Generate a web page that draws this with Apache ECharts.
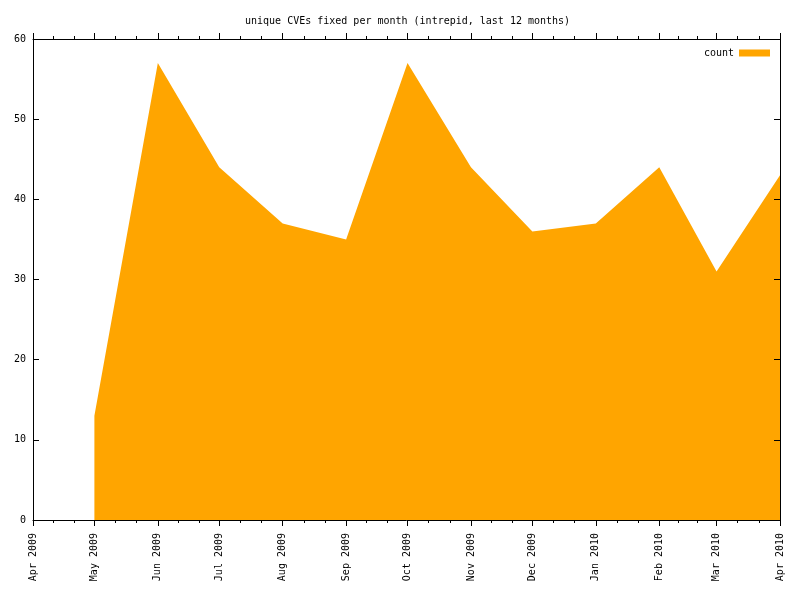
<!DOCTYPE html>
<html>
<head>
<meta charset="utf-8">
<script src="https://cdn.jsdelivr.net/npm/echarts@6/dist/echarts.min.js"></script>
<style>html,body{margin:0;padding:0;background:#fff}#c{width:800px;height:600px}</style>
</head>
<body>
<div id="c"></div>
<script>
const titleText = 'unique CVEs fixed per month (intrepid, last 12 months)';
const seriesName = 'count';
const dates = ['2009-05-01','2009-06-01','2009-07-01','2009-08-01','2009-09-01','2009-10-01','2009-11-01','2009-12-01','2010-01-01','2010-02-01','2010-03-01','2010-04-01'];
const counts = [13, 57, 44, 37, 35, 57, 44, 36, 37, 44, 31, 43];
const tickDates = ['2009-04-01','2009-05-01','2009-06-01','2009-07-01','2009-08-01','2009-09-01','2009-10-01','2009-11-01','2009-12-01','2010-01-01','2010-02-01','2010-03-01','2010-04-01'];
const tickLabels = ['Apr 2009','May 2009','Jun 2009','Jul 2009','Aug 2009','Sep 2009','Oct 2009','Nov 2009','Dec 2009','Jan 2010','Feb 2010','Mar 2010','Apr 2010'];
const yTicks = [0, 10, 20, 30, 40, 50, 60];

const FONT = 'DejaVu Sans Mono';
const parse = s => +echarts.time.parse(s);
const tickVals = tickDates.map(parse);
const xMin = tickVals[0], xMax = tickVals[tickVals.length - 1];
const DAY = 86400000;

function xLabel(v) {
  const val = typeof v === 'object' ? v.value : v;
  for (let i = 0; i < tickVals.length; i++) {
    if (Math.abs(tickVals[i] - val) < DAY / 2) return tickLabels[i];
  }
  return '';
}

const chart = echarts.init(document.getElementById('c'), null, {renderer: 'canvas'});
const baseX = {
  type: 'time', min: xMin, max: xMax,
  splitNumber: 12, minInterval: 28 * DAY, maxInterval: 31 * DAY,
  z: 10,
  axisLine: {show: true, onZero: false, lineStyle: {color: '#000', width: 1}},
  axisTick: {show: true, inside: false, length: 6, lineStyle: {color: '#000'}},
  minorTick: {show: true, splitNumber: 3, length: 3, lineStyle: {color: '#000'}},
  splitLine: {show: false},
  minorSplitLine: {show: false}
};
chart.setOption({
  animation: false,
  backgroundColor: '#fff',
  title: {
    text: titleText, left: 245, top: 16, padding: 0,
    textStyle: {fontFamily: FONT, fontSize: 10, fontWeight: 'normal', color: '#000'}
  },
  legend: {
    data: [seriesName], right: 30, top: 48, padding: 0, align: 'right',
    icon: 'rect', itemWidth: 31, itemHeight: 7,
    textStyle: {fontFamily: FONT, fontSize: 10, color: '#000'}
  },
  grid: {left: 33, right: 20, top: 39, bottom: 80, containLabel: false},
  xAxis: [
    Object.assign({}, baseX, {
      position: 'bottom',
      axisLabel: {
        show: true, rotate: 90, margin: 13, interval: 0, hideOverlap: false,
        showMinLabel: true, showMaxLabel: true,
        fontFamily: FONT, fontSize: 10, color: '#000', formatter: xLabel
      }
    }),
    Object.assign({}, baseX, {position: 'top', axisLabel: {show: false}})
  ],
  yAxis: [
    {
      type: 'value', min: yTicks[0], max: yTicks[yTicks.length - 1], interval: 10, z: 10,
      position: 'left',
      axisLine: {show: true, lineStyle: {color: '#000'}},
      axisTick: {show: true, inside: true, length: 6, lineStyle: {color: '#000'}},
      splitLine: {show: false},
      axisLabel: {margin: 7, fontFamily: FONT, fontSize: 10, color: '#000'}
    },
    {
      type: 'value', min: yTicks[0], max: yTicks[yTicks.length - 1], interval: 10, z: 10,
      position: 'right',
      axisLine: {show: true, lineStyle: {color: '#000'}},
      axisTick: {show: true, inside: true, length: 6, lineStyle: {color: '#000'}},
      splitLine: {show: false},
      axisLabel: {show: false}
    }
  ],
  series: [{
    name: seriesName, type: 'line',
    data: dates.map((d, i) => [d, counts[i]]),
    showSymbol: false, symbol: 'none',
    lineStyle: {width: 0, color: '#ffa500'},
    itemStyle: {color: '#ffa500'},
    areaStyle: {color: '#ffa500', opacity: 1}
  }]
});
</script>
</body>
</html>
